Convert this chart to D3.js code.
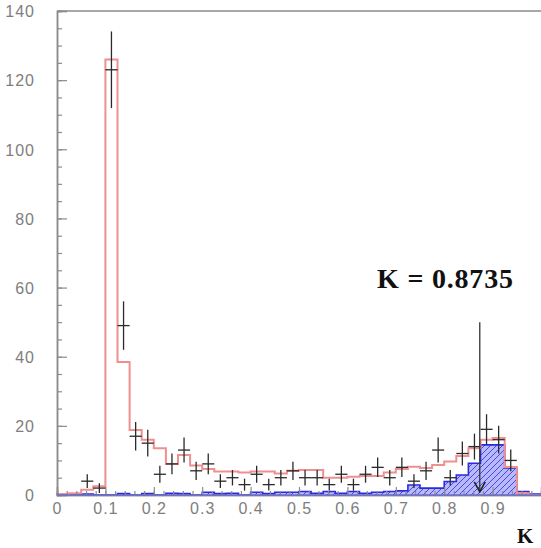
<!DOCTYPE html>
<html>
<head>
<meta charset="utf-8">
<script src="https://cdn.jsdelivr.net/npm/d3@7"></script>
<style>
  html, body { margin: 0; padding: 0; background: #fff; }
  svg { display: block; }
</style>
</head>
<body>
<svg id="chart" width="541" height="548"></svg>
<script>
// ---- data (40 bins of width 0.025 from 0 to 1) ----
const binEdgesStart = 0;
const binWidth = 0.025;
const dataCounts = [0, 0, 4, 2, 123, 49, 17, 15, 6, 9,
                    13, 7, 9, 4, 5, 3, 6, 3, 5, 7,
                    5, 5, 3, 6, 3, 6, 8, 5, 8, 4,
                    7, 13, 5, 12, 14, 19, 16, 10, 0, 0];
const totalMC = [0.3, 0.5, 1.5, 2.5, 126, 38.5, 18.8, 16, 13.5, 9,
                 11.6, 8.5, 7.5, 6.8, 6.8, 6.5, 6.8, 6.8, 6.2, 7.0,
                 7.2, 7.2, 5.0, 5.0, 5.3, 5.5, 5.5, 6.5, 7.5, 8.2,
                 7.8, 8.7, 9.7, 11.3, 13.5, 16, 16.5, 8.1, 0.5, 0];
const signalMC = [0, 0, 0.3, 0, 0, 0.4, 0, 0.4, 0, 0.5,
                  0.4, 0, 0.8, 0.4, 0.5, 0, 0.8, 0.4, 0.8, 0.8,
                  1, 0.5, 1, 0.5, 1, 0.5, 0.8, 1, 1.2, 2.9,
                  2, 2, 3.9, 5.8, 9.2, 14.5, 14.5, 7.8, 1, 0.3];
const xTickLabels = ["0", "0.1", "0.2", "0.3", "0.4", "0.5", "0.6", "0.7", "0.8", "0.9"];
const yTickLabels = ["0", "20", "40", "60", "80", "100", "120", "140"];
const cutValue = 0.8735;
const cutLabel = "K = 0.8735";
const xTitle = "K";

// ---- scales ----
const svg = d3.select("#chart");
const x = d3.scaleLinear().domain([0, 1]).range([57, 541]);
const y = d3.scaleLinear().domain([0, 140]).range([495, 11]);

const bins = dataCounts.map((d, i) => ({
  x0: binEdgesStart + i * binWidth,
  x1: binEdgesStart + (i + 1) * binWidth,
  data: d, total: totalMC[i], signal: signalMC[i]
}));

// ---- hatch pattern ----
const defs = svg.append("defs");
const pat = defs.append("pattern").attr("id", "hatch")
  .attr("patternUnits", "userSpaceOnUse").attr("width", 6).attr("height", 6);
pat.append("rect").attr("width", 6).attr("height", 6).attr("fill", "#b8b8ff");
pat.append("path").attr("d", "M0,6 L6,0 M-1.5,1.5 L1.5,-1.5 M4.5,7.5 L7.5,4.5")
  .attr("stroke", "#4a4ad8").attr("stroke-width", 1.0);

function stepPoints(key) {
  const pts = [[0, 0]];
  bins.forEach(b => { pts.push([b.x0, b[key]]); pts.push([b.x1, b[key]]); });
  pts.push([1, 0]);
  return pts;
}

// ---- signal hatched histogram ----
const area = d3.area().x(d => x(d[0])).y0(y(0)).y1(d => y(d[1]));
const line = d3.line().x(d => x(d[0])).y(d => y(d[1]));
svg.append("path").attr("d", area(stepPoints("signal")))
  .attr("fill", "url(#hatch)").attr("stroke", "none");
svg.append("path").attr("d", line(stepPoints("signal")))
  .attr("fill", "none").attr("stroke", "#2a2ae0").attr("stroke-width", 1.6);

// ---- total MC red histogram ----
svg.append("path").attr("d", line(stepPoints("total")))
  .attr("fill", "none").attr("stroke", "#ef9090").attr("stroke-width", 2);

// ---- axes / frame ----
const gray = "#8c8c8c";
svg.append("line").attr("x1", x(0)).attr("x2", 541).attr("y1", y(140)).attr("y2", y(140))
  .attr("stroke", "#a8a8a8").attr("stroke-width", 2);

const yMajor = d3.axisLeft(y).tickValues(yTickLabels.map(Number)).tickSize(-10).tickPadding(22)
  .tickFormat((d, i) => yTickLabels[i]);
const yMinor = d3.axisLeft(y).tickValues(d3.range(0, 141, 5)).tickSize(-5).tickFormat("");
const gyMinor = svg.append("g").attr("transform", `translate(${x(0)},0)`).call(yMinor);
const gy = svg.append("g").attr("transform", `translate(${x(0)},0)`).call(yMajor);

const xMajor = d3.axisBottom(x).tickValues(xTickLabels.map(Number)).tickSize(-8).tickPadding(16)
  .tickFormat((d, i) => xTickLabels[i]);
const xMinor = d3.axisBottom(x).tickValues(d3.range(0, 50).map(i => i * 0.02)).tickSize(-4).tickFormat("");
const gxMinor = svg.append("g").attr("transform", `translate(0,${y(0)})`).call(xMinor);
const gx = svg.append("g").attr("transform", `translate(0,${y(0)})`).call(xMajor);

[gy, gyMinor, gx, gxMinor].forEach(g => {
  g.select(".domain").attr("stroke", gray).attr("stroke-width", 1.5);
  g.selectAll(".tick line").attr("stroke", gray).attr("stroke-width", 1.2);
  g.selectAll(".tick text").attr("fill", "#7e7e7e")
    .style("font-family", "'Liberation Sans', Arial, sans-serif")
    .style("font-size", "16px").style("letter-spacing", "1px");
});
gy.selectAll(".tick text").attr("dy", "0.36em");
gx.selectAll(".tick text").attr("dy", "0.2em");
// blue baseline over axis
svg.append("line").attr("x1", x(0)).attr("x2", 541).attr("y1", y(0)).attr("y2", y(0))
  .attr("stroke", "#5a5ae6").attr("stroke-width", 1.2);

// ---- data points with errors ----
const pts = svg.append("g").attr("stroke", "#2a2a2a").attr("stroke-width", 1.3);
bins.filter(b => b.data > 0).forEach(b => {
  const e = Math.sqrt(b.data);
  const xc = (b.x0 + b.x1) / 2;
  pts.append("line").attr("x1", x(b.x0)).attr("x2", x(b.x1)).attr("y1", y(b.data)).attr("y2", y(b.data));
  pts.append("line").attr("x1", x(xc)).attr("x2", x(xc)).attr("y1", y(b.data - e)).attr("y2", y(b.data + e));
});

// ---- cut arrow ----
const ax = x(cutValue);
svg.append("line").attr("x1", ax).attr("x2", ax).attr("y1", y(50)).attr("y2", y(0.9))
  .attr("stroke", "#333").attr("stroke-width", 1.3);
svg.append("path")
  .attr("d", `M${ax - 5.5},${y(0.9) - 10} L${ax},${y(0.9)} L${ax + 5.5},${y(0.9) - 10}`)
  .attr("fill", "none").attr("stroke", "#222").attr("stroke-width", 1.6);

svg.append("text").attr("x", 377).attr("y", 288).text(cutLabel)
  .attr("fill", "#111").style("font-family", "'Liberation Serif', 'Times New Roman', serif")
  .style("font-weight", "bold").style("font-size", "28px").style("letter-spacing", "0.8px");

svg.append("text").attr("x", 517).attr("y", 543).text(xTitle)
  .attr("fill", "#111").style("font-family", "'Liberation Serif', 'Times New Roman', serif")
  .style("font-weight", "bold").style("font-size", "21px");
</script>
</body>
</html>
